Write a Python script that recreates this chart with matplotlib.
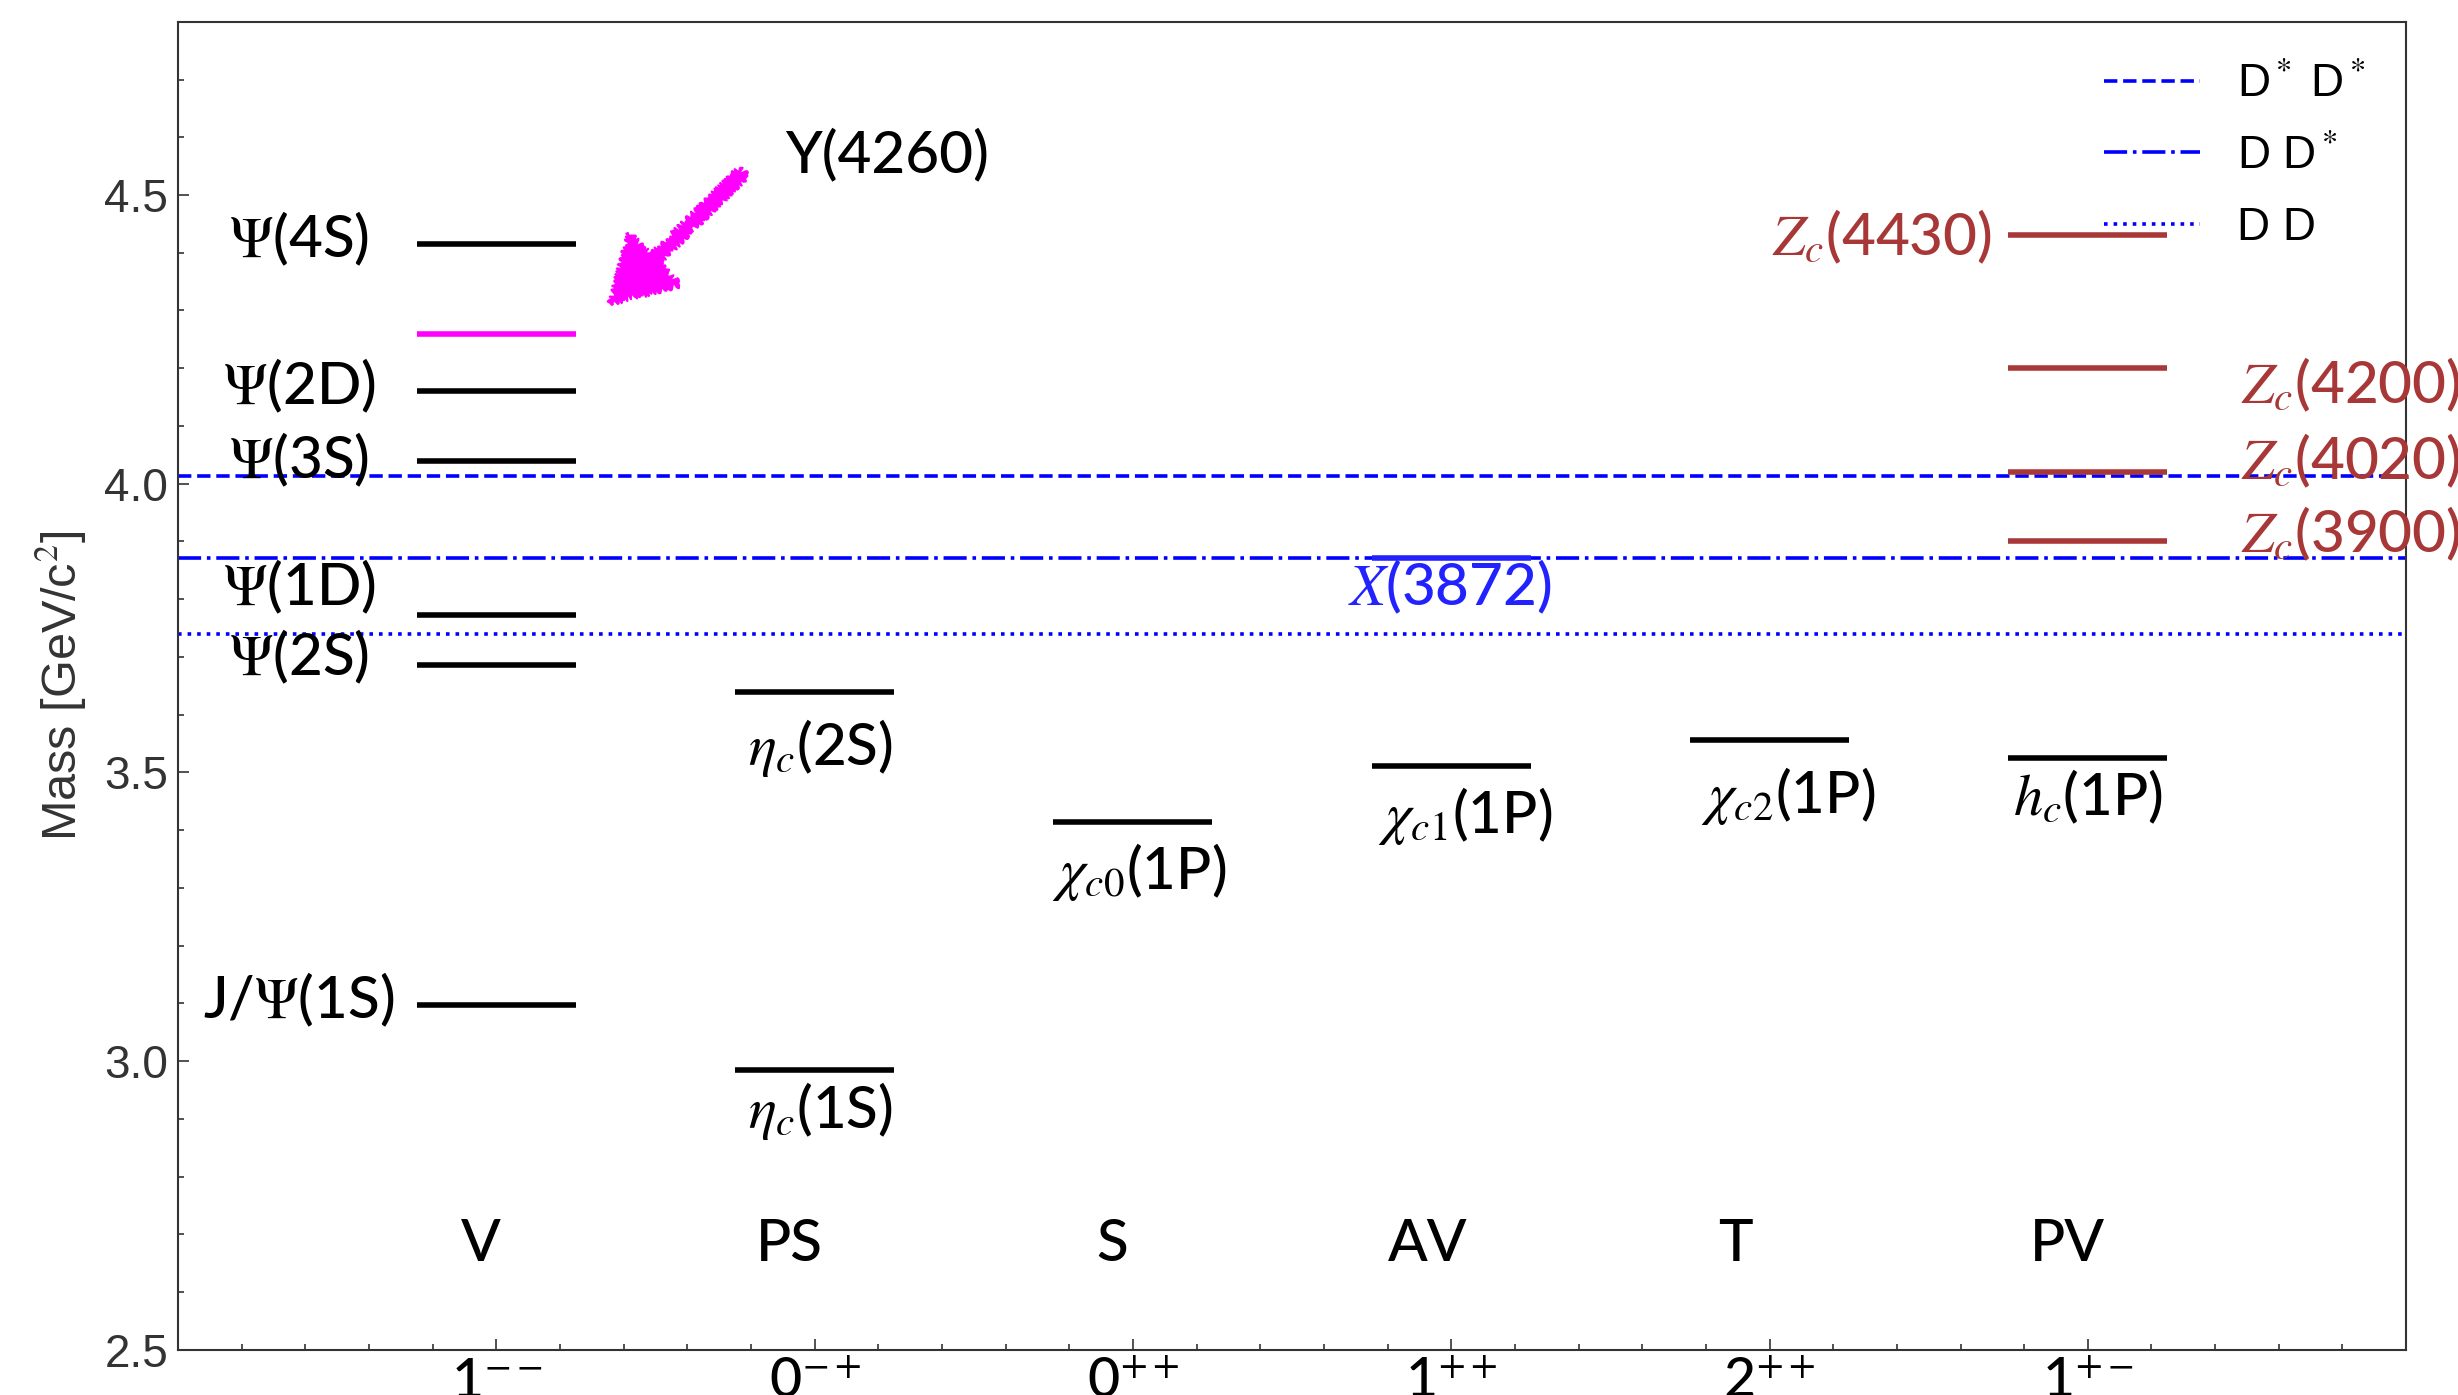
#!/usr/bin/env python3

import matplotlib as mpl
mpl.use('Agg')
from matplotlib import pyplot as plt
from matplotlib.patches import FancyArrowPatch, ArrowStyle
from matplotlib.ticker import MultipleLocator

plt.rcParams['font.family'] = ['Lato', 'DejaVu Sans']
plt.rcParams['font.weight'] = 'medium'
plt.rcParams['mathtext.fontset'] = 'stix'

# J^PC columns and their short names
jpc = [r'1$^{--}$', r'0$^{-+}$', r'0$^{++}$', r'1$^{++}$', r'2$^{++}$', r'1$^{+-}$']
kind = ['V', 'PS', 'S', 'AV', 'T', 'PV']

# conventional charmonium levels (GeV)
cc_names = [r'J/$\Psi$(1S)', r'$\Psi$(2S)', r'$\Psi$(1D)', r'$\Psi$(3S)', r'$\Psi$(2D)', r'$\Psi$(4S)',
            r'$\eta_c$(1S)', r'$\eta_c$(2S)', r'$\chi_{c0}$(1P)', r'$\chi_{c1}$(1P)',
            r'$\chi_{c2}$(1P)', r'$h_c$(1P)']
cc_col = [1, 1, 1, 1, 1, 1, 2, 2, 3, 4, 5, 6]
cc_mass = [3.097, 3.686, 3.773, 4.040, 4.160, 4.415, 2.984, 3.639, 3.415, 3.511, 3.556, 3.525]

# exotic states
y_name, y_col, y_mass = 'Y(4260)', 1, 4.260
x_name, x_col, x_mass = r'$X$(3872)', 4, 3.872
zc_names = [r'$Z_c$(3900)', r'$Z_c$(4020)', r'$Z_c$(4200)', r'$Z_c$(4430)']
zc_col = 6
zc_mass = [3.900, 4.020, 4.200, 4.430]

# open-charm thresholds
thr_names = [r'D$^*$ D$^*$', r'D D$^*$', 'D D']
thr_mass = [4.014, 3.872, 3.739]
thr_style = ['--', '-.', ':']

# label placement (layout only)
cc_lab_xy = [(0.38, 3.107), (0.38, 3.701), (0.38, 3.821), (0.38, 4.041), (0.38, 4.169), (0.38, 4.424),
             (2.02, 2.914), (2.02, 3.543), (3.02, 3.327), (4.045, 3.424), (5.06, 3.46), (6.0, 3.458)]
zc_lab = [(6.48, 3.913, 'left'), (6.48, 4.039, 'left'), (6.48, 4.171, 'left'), (5.70, 4.427, 'right')]
kind_x = [0.953, 1.92, 2.935, 3.926, 4.893, 5.937]
zc_color = '#a83838'
x_color = '#2222ff'
half = 0.25
lab_fs = 42

fig = plt.figure(figsize=(24.58, 13.95), dpi=100)
ax = fig.add_axes([0.0724, 0.0323, 0.9065, 0.9521])

for m, ls, name in zip(thr_mass, thr_style, thr_names):
    ax.axhline(m, color='blue', ls=ls, lw=2.6, label=name)

for name, c, m, (lx, ly) in zip(cc_names, cc_col, cc_mass, cc_lab_xy):
    ax.hlines(m, c - half, c + half, color='black', lw=4)
    ax.text(lx, ly, name, ha='center', va='center', fontsize=lab_fs)

ax.hlines(y_mass, y_col - half, y_col + half, color='magenta', lw=4)
ax.text(1.906, 4.568, y_name, ha='left', va='center', fontsize=lab_fs)
arrow = FancyArrowPatch((1.777, 4.540), (1.358, 4.313),
                        arrowstyle=ArrowStyle.Simple(head_length=45, head_width=52, tail_width=8),
                        mutation_scale=1, shrinkA=0, shrinkB=0, color='magenta', lw=1.5)
arrow.set_sketch_params(scale=3, length=6, randomness=4)
ax.add_patch(arrow)

ax.hlines(x_mass, x_col - half, x_col + half, color=x_color, lw=4)
ax.text(3.995, 3.822, x_name, ha='center', va='center', fontsize=lab_fs, color=x_color)

for name, m, (lx, ly, ha) in zip(zc_names, zc_mass, zc_lab):
    ax.hlines(m, zc_col - half, zc_col + half, color=zc_color, lw=4)
    ax.text(lx, ly, name, ha=ha, va='center', fontsize=lab_fs, color=zc_color)

for k, kx in zip(kind, kind_x):
    ax.text(kx, 2.683, k, ha='center', va='center', fontsize=lab_fs)

ax.set_xlim(0, 7)
ax.set_ylim(2.5, 4.8)
ax.set_xticks(range(1, 7))
ax.set_xticklabels(jpc, fontsize=40)
ax.xaxis.set_minor_locator(MultipleLocator(0.2))
ax.yaxis.set_minor_locator(MultipleLocator(0.1))
ax.set_yticks([2.5, 3.0, 3.5, 4.0, 4.5])
ax.set_yticklabels(['2.5', '3.0', '3.5', '4.0', '4.5'], family='Liberation Sans', fontsize=33, color='#333333')
ax.tick_params(which='both', direction='in', top=False, right=False, width=1.2, color='#333333')
ax.tick_params(which='major', length=8)
ax.tick_params(axis='y', which='major', pad=7)
ax.tick_params(axis='x', which='major', pad=5)
ax.tick_params(which='minor', length=4.5)
for s in ax.spines.values():
    s.set_color('#333333')
    s.set_linewidth(1.5)

ax.set_ylabel('Mass [GeV/c$^2$]', family='Liberation Sans', fontsize=35, color='#333333')
ax.yaxis.set_label_coords(-0.040, 0.5)

ax.legend(loc='upper right', frameon=False, prop={'family': 'Liberation Sans', 'size': 33},
          handlelength=2.1, labelspacing=0.6)

plt.savefig('out.png', dpi=100)
plt.close()
